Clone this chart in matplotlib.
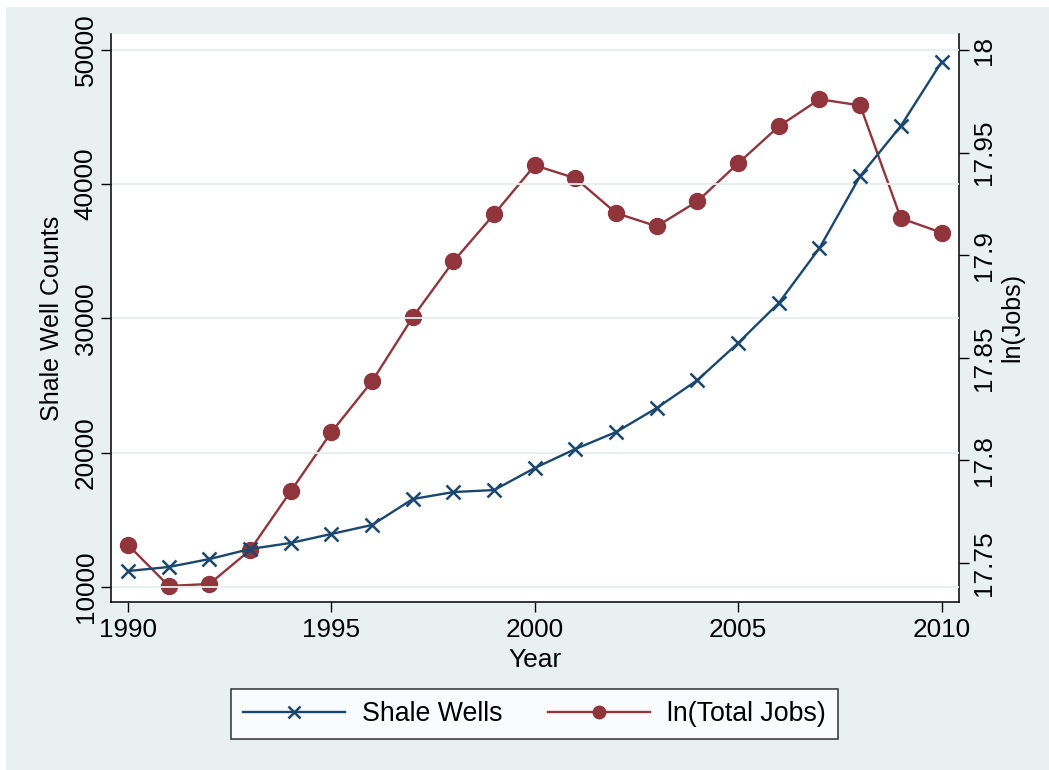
import matplotlib.pyplot as plt
from matplotlib.patches import Rectangle
from matplotlib.lines import Line2D

plt.rcParams['font.family'] = ['Liberation Sans', 'DejaVu Sans']

years = list(range(1990, 2011))
shale_wells = [11190, 11490, 12080, 12830, 13280, 13950, 14620, 16550, 17070, 17220,
               18860, 20280, 21540, 23330, 25410, 28170, 31150, 35240, 40600, 44330, 49090]
ln_jobs = [17.7588, 17.7388, 17.7398, 17.7563, 17.785, 17.8138, 17.8386, 17.8698, 17.897, 17.920,
           17.9438, 17.9375, 17.9205, 17.9141, 17.9263, 17.9448, 17.9628, 17.976, 17.973, 17.918, 17.911]

left_ticks = [10000, 20000, 30000, 40000, 50000]
right_ticks = [17.75, 17.8, 17.85, 17.9, 17.95, 18.0]
right_labels = ['17.75', '17.8', '17.85', '17.9', '17.95', '18']
x_ticks = [1990, 1995, 2000, 2005, 2010]

navy = '#1a476f'
maroon = '#90353b'
bg = '#e9f0f2'

W, H = 1049, 770
fig = plt.figure(figsize=(W / 100, H / 100), dpi=100)
fig.patch.set_facecolor('white')
fig.patches.append(Rectangle((6 / W, 0), 1, (H - 7) / H, transform=fig.transFigure,
                             facecolor=bg, edgecolor='none', zorder=-10))

ax1 = fig.add_axes([111 / W, (H - 602) / H, (959 - 111) / W, (602 - 34) / H])
ax2 = ax1.twinx()

ax1.plot(years, shale_wells, color=navy, lw=1.7, marker='x', ms=10, mew=1.8, label='Shale Wells')
ax2.plot(years, ln_jobs, color=maroon, lw=1.7, marker='o', ms=11.5, label='ln(Total Jobs)')

ax1.set_xlim(1989.58, 2010.43)
ax1.set_ylim(8883, 51177)
ax2.set_ylim(17.731, 18.0078)

# light gridlines at the left-axis ticks
for y in left_ticks:
    ax1.axhline(y, color='#e6eef0', lw=1.3, zorder=0)

fs = 18.8
ax1.set_xticks(x_ticks)
ax1.set_xticklabels([str(x) for x in x_ticks], fontsize=fs)
ax1.set_yticks(left_ticks)
ax1.set_yticklabels([str(v) for v in left_ticks], fontsize=fs, rotation=90, va='center')
ax2.set_yticks(right_ticks)
ax2.set_yticklabels(right_labels, fontsize=fs, rotation=90, va='center')

for a in (ax1, ax2):
    a.tick_params(length=7.5, width=1, color='black', pad=2)
    a.spines['top'].set_visible(False)
ax1.tick_params(axis='x', pad=4)
ax1.spines['right'].set_visible(False)
ax2.spines['left'].set_visible(False)
ax2.spines['bottom'].set_visible(False)
for s in ('left', 'bottom'):
    ax1.spines[s].set_linewidth(1.1)
ax2.spines['right'].set_linewidth(1.1)

ax1.set_xlabel('Year', fontsize=19, labelpad=4)
ax1.set_ylabel('Shale Well Counts', fontsize=18, labelpad=7)
ax2.set_ylabel('ln(Jobs)', fontsize=18, rotation=90, labelpad=3)
ax1.set_zorder(ax2.get_zorder() + 1)
ax1.patch.set_visible(False)
ax2.patch.set_visible(True)
ax2.patch.set_facecolor('white')

handles = [Line2D([], [], color=navy, lw=1.7, marker='x', ms=9, mew=1.8),
           Line2D([], [], color=maroon, lw=1.7, marker='o', ms=9)]
leg = fig.legend(handles, ['Shale Wells', 'ln(Total Jobs)'], loc='center',
                 bbox_to_anchor=(534.5 / W, 1 - 714 / H), ncol=2, fontsize=19.3,
                 frameon=True, fancybox=False, edgecolor='black', facecolor='white',
                 handlelength=3.8, columnspacing=1.7, borderpad=0.45, handletextpad=0.65,
                 borderaxespad=0)
leg.get_frame().set_linewidth(1.1)

fig.savefig('out.png', dpi=100, facecolor=fig.get_facecolor())
